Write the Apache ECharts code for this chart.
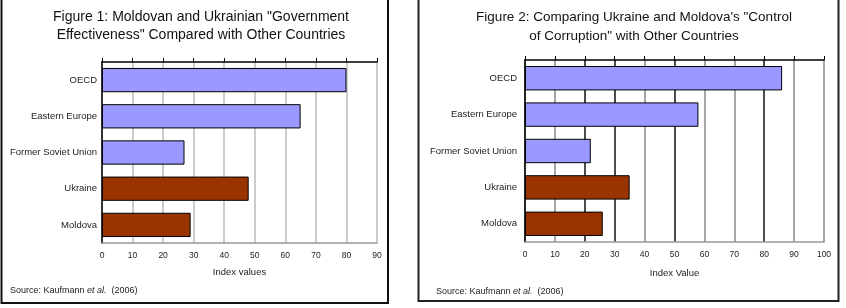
<!DOCTYPE html>
<html>
<head>
    <meta charset="utf-8" />
    <title>Government Effectiveness and Control of Corruption</title>
    <script src="https://cdn.jsdelivr.net/npm/echarts@6/dist/echarts.min.js"></script>
    <style>
        body { margin: 0; background: #fff; }
    </style>
</head>
<body>
    <div id="main" style="width: 846px;height:308px;"></div>
    <script type="text/javascript">
        // categories, bottom to top as on the picture
        var categories = ['Moldova', 'Ukraine', 'Former Soviet Union', 'Eastern Europe', 'OECD'];
        // figure 1: government effectiveness
        var govEffect = [29, 48, 27, 65, 80];
        // figure 2: control of corruption
        var corruption = [26, 35, 22, 58, 86];
        var fig1Ticks = [0, 10, 20, 30, 40, 50, 60, 70, 80, 90];
        var fig2Ticks = [0, 10, 20, 30, 40, 50, 60, 70, 80, 90, 100];

        var blue = '#9999ff';
        var brown = '#993300';
        var font = 'Liberation Sans, Arial, sans-serif';

        function barData(vals) {
            return vals.map(function(v, i) {
                // Moldova and Ukraine in brown, comparison groups in blue
                return { value: v, itemStyle: { color: i < 2 ? brown : blue } };
            });
        }

        var myChart = echarts.init(document.getElementById('main'));

        function catAxis(gridIndex) {
            return {
                type: 'category',
                gridIndex: gridIndex,
                data: categories,
                axisLine: { lineStyle: { color: '#000', width: 1.5 } },
                axisTick: { length: 4, lineStyle: { color: '#000' } },
                axisLabel: { color: '#222', fontSize: 9.5, fontFamily: font, margin: gridIndex ? 8 : 5 },
                splitLine: { show: false }
            };
        }

        function valAxis(gridIndex, max, name, gap, gridColors) {
            return [{
                type: 'value',
                gridIndex: gridIndex,
                min: 0, max: max, interval: 10,
                position: 'bottom',
                name: name,
                nameLocation: 'middle',
                nameGap: gap,
                nameTextStyle: { color: '#222', fontSize: 9.5, fontFamily: font },
                axisLine: { show: true, lineStyle: { color: '#999', width: 1.5 } },
                axisTick: { show: false },
                axisLabel: { color: '#222', fontSize: 8.5, fontFamily: font, margin: 8 },
                splitLine: { show: true, lineStyle: { color: gridColors, width: 1.5 } }
            }, {
                // top edge: black line with upward ticks, no labels
                type: 'value',
                gridIndex: gridIndex,
                min: 0, max: max, interval: 10,
                position: 'top',
                axisLine: { show: true, lineStyle: { color: '#000', width: 1.5 } },
                axisTick: { show: true, inside: false, length: 4, lineStyle: { color: '#000' } },
                axisLabel: { show: false },
                splitLine: { show: false }
            }];
        }

        // gridline shades for figure 2, one per tick from 0 to 100
        var fig2Shades = ['#777', '#888', '#111', '#111', '#888', '#111', '#888', '#888', '#111', '#888', '#888'];
        var xAxes = valAxis(0, fig1Ticks[fig1Ticks.length - 1], 'Index values', 24, ['#bbb'])
            .concat(valAxis(1, fig2Ticks[fig2Ticks.length - 1], 'Index Value', 26, fig2Shades));

        var sourceRich = {
            n: { fontFamily: font, fontSize: 9, fill: '#222' },
            i: { fontFamily: font, fontSize: 9, fill: '#222', fontStyle: 'italic' }
        };

        var option = {
            animation: false,
            backgroundColor: '#fff',
            title: [{
                text: 'Figure 1: Moldovan and Ukrainian "Government\nEffectiveness" Compared with Other Countries',
                left: 196, top: 3, textAlign: 'center',
                textStyle: { fontFamily: font, fontSize: 14, fontWeight: 'normal', color: '#111', lineHeight: 18 }
            }, {
                text: 'Figure 2: Comparing Ukraine and Moldova\'s "Control\nof Corruption" with Other Countries',
                left: 629, top: 3, textAlign: 'center',
                textStyle: { fontFamily: font, fontSize: 13.5, fontWeight: 'normal', color: '#111', lineHeight: 19 }
            }],
            grid: [
                { left: 102, top: 62, width: 275, height: 181, containLabel: false },
                { left: 525, top: 60, width: 299, height: 182, containLabel: false }
            ],
            xAxis: xAxes,
            yAxis: [catAxis(0), catAxis(1)],
            series: [{
                type: 'bar',
                xAxisIndex: 0, yAxisIndex: 0,
                data: barData(govEffect),
                barCategoryGap: '33%',
                itemStyle: { borderColor: '#000', borderWidth: 1 }
            }, {
                type: 'bar',
                xAxisIndex: 2, yAxisIndex: 1,
                data: barData(corruption),
                barCategoryGap: '33%',
                itemStyle: { borderColor: '#000', borderWidth: 1 }
            }],
            graphic: [{
                type: 'rect',
                shape: { x: 1.5, y: -10, width: 386.5, height: 313 },
                style: { fill: 'none', stroke: '#111', lineWidth: 2 }
            }, {
                type: 'rect',
                shape: { x: 418.5, y: -10, width: 420, height: 311 },
                style: { fill: 'none', stroke: '#222', lineWidth: 2 }
            }, {
                type: 'text',
                left: 10, top: 286,
                style: { text: '{n|Source: Kaufmann }{i|et al.}{n|  (2006)}', rich: sourceRich }
            }, {
                type: 'text',
                left: 436, top: 287,
                style: { text: '{n|Source: Kaufmann }{i|et al.}{n|  (2006)}', rich: sourceRich }
            }]
        };
        myChart.setOption(option);
    </script>
</body>
</html>
